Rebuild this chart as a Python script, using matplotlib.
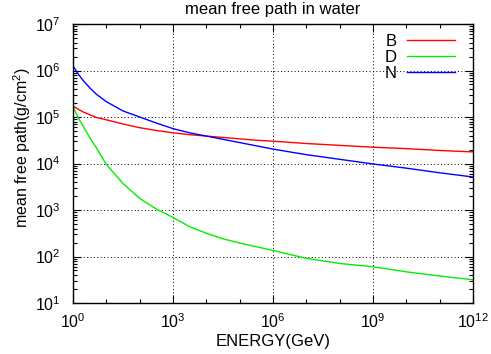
import matplotlib
matplotlib.use("Agg")
import matplotlib.pyplot as plt
import matplotlib.ticker as mticker
import numpy as np

plt.rcParams['font.family'] = ['Liberation Sans', 'DejaVu Sans']
plt.rcParams['mathtext.fontset'] = 'custom'
plt.rcParams['mathtext.rm'] = 'Liberation Sans'
plt.rcParams['mathtext.it'] = 'Liberation Sans:italic'
plt.rcParams['mathtext.bf'] = 'Liberation Sans:bold'

# Data, energies and mean free paths as log10 values
log_energy = [0, 0.15, 0.3, 0.5, 0.7, 1.0, 1.5, 2.0, 2.5, 3.0, 3.5, 4.0, 4.5,
              5.0, 5.5, 6.0, 7.0, 8.0, 9.0, 10.0, 11.0, 12.0]
log_mfp_B = [5.24, 5.17, 5.11, 5.05, 4.99, 4.94, 4.85, 4.77, 4.71, 4.66, 4.62,
             4.59, 4.56, 4.53, 4.50, 4.48, 4.43, 4.39, 4.35, 4.32, 4.28, 4.25]
log_mfp_D = [5.23, 4.99, 4.81, 4.56, 4.34, 3.98, 3.57, 3.25, 3.02, 2.84, 2.64,
             2.50, 2.38, 2.29, 2.21, 2.13, 1.96, 1.85, 1.78, 1.67, 1.58, 1.50]
log_mfp_N = [6.10, 5.93, 5.79, 5.63, 5.49, 5.33, 5.13, 5.00, 4.87, 4.75, 4.66,
             4.59, 4.52, 4.45, 4.38, 4.31, 4.19, 4.09, 3.99, 3.90, 3.80, 3.71]
series_labels = ['B', 'D', 'N']
series_colors = ['#ff0000', '#00ee00', '#0000ff']
x_major = [1e0, 1e3, 1e6, 1e9, 1e12]

energy = np.power(10.0, log_energy)

fig = plt.figure(figsize=(4.91, 3.54), dpi=100)
ax = fig.add_axes([73/491, 1-303/354, 400/491, 279/354])

for ly, lab, c in zip([log_mfp_B, log_mfp_D, log_mfp_N], series_labels, series_colors):
    ax.plot(energy, np.power(10.0, ly), color=c, lw=1.0, label=lab)

ax.set_xscale('log')
ax.set_yscale('log')
ax.set_xlim(1, 1e12)
ax.set_ylim(10, 1e7)

ax.xaxis.set_major_locator(mticker.FixedLocator(x_major))
ax.xaxis.set_minor_locator(mticker.FixedLocator([10.0**k for k in range(13)]))
ax.xaxis.set_minor_formatter(mticker.NullFormatter())
ax.yaxis.set_major_locator(mticker.LogLocator(base=10, numticks=20))
ax.yaxis.set_minor_locator(mticker.LogLocator(base=10, subs=np.arange(2, 10), numticks=20))
ax.yaxis.set_minor_formatter(mticker.NullFormatter())

def fmt(v, pos):
    return r'$\mathregular{10^{%d}}$' % int(round(np.log10(v)))
ax.xaxis.set_major_formatter(mticker.FuncFormatter(fmt))
ax.yaxis.set_major_formatter(mticker.FuncFormatter(fmt))

ax.tick_params(which='both', direction='in', top=True, right=True,
               labelsize=11.5, width=0.8)
ax.tick_params(which='major', length=6)
ax.tick_params(axis='x', which='major', pad=7)
ax.tick_params(axis='y', which='major', pad=9)
ax.tick_params(which='minor', length=3)

ax.grid(True, which='major', color='black', linestyle=(0, (1, 2.5)), lw=0.7)
for s in ax.spines.values():
    s.set_linewidth(1.0)

ax.set_xlabel('ENERGY(GeV)', fontsize=12, labelpad=2)
ax.set_ylabel(r'mean free path(g/cm$^\mathregular{2}$)', fontsize=11.5, va='center')
ax.yaxis.set_label_coords(-0.128, 0.557)
ax.set_title('mean free path in water', fontsize=12, pad=7)

leg = ax.legend(loc='upper right', frameon=False, markerfirst=False,
                fontsize=12, handlelength=2.9, handletextpad=0.6,
                labelspacing=0.05, borderaxespad=0.2,
                bbox_to_anchor=(0.98, 1.0))
for t in leg.get_texts():
    t.set_ha('right')

fig.savefig('out.png', dpi=100)
